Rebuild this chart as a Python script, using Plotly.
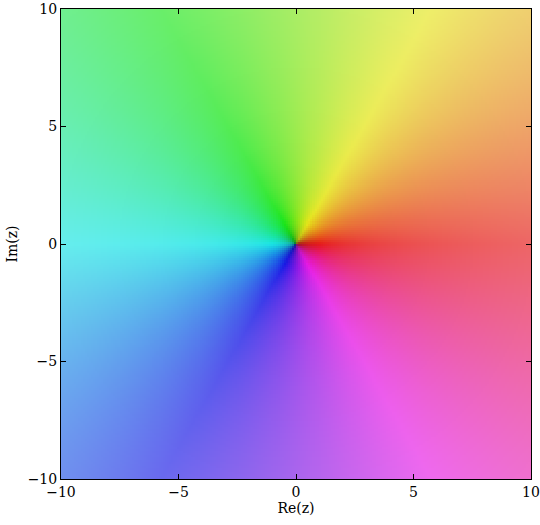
import numpy as np
import colorsys
import plotly.graph_objects as go

# Domain of the complex plane plotted (f(z) = z)
re_values = np.linspace(-10, 10, 230)
im_values = np.linspace(-10, 10, 230)
tick_values = [-10, -5, 0, 5, 10]
tick_labels = ["\u221210", "\u22125", "0", "5", "10"]

# domain colouring (mpmath cplot default colour function)
Z = re_values[None, :] + 1j * im_values[:, None]
F = Z
img = np.zeros(F.shape + (3,), dtype=np.uint8)
for i in range(F.shape[0]):
    for j in range(F.shape[1]):
        w = F[i, j]
        a = (np.angle(w) + np.pi) / (2 * np.pi)
        a = (a + 0.5) % 1.0
        b = 1.0 - 1.0 / (1.0 + abs(w) ** 0.3)
        r, g, bl = colorsys.hls_to_rgb(a, b, 0.8)
        img[i, j] = [int(r * 255), int(g * 255), int(bl * 255)]

dx = re_values[1] - re_values[0]
dy = im_values[1] - im_values[0]

fig = go.Figure(go.Image(z=img, x0=re_values[0], dx=dx, y0=im_values[0], dy=dy,
                         hoverinfo="skip"))

W, H = 540, 525
M = dict(l=61, r=9, t=9, b=46)

font = dict(family="DejaVu Serif", size=14, color="black")
axis_common = dict(
    tickvals=tick_values, ticktext=tick_labels, ticks="inside", ticklen=5,
    tickwidth=1, tickcolor="black", showticklabels=True,
    mirror="allticks", showline=True, linecolor="black",
    linewidth=1, showgrid=False, zeroline=False, tickfont=font,
    automargin=False, layer="above traces",
)
fig.update_xaxes(range=[-10, 10], title=dict(text="Re(z)", font=font, standoff=4),
                 **axis_common)
fig.update_yaxes(range=[-10, 10], autorange=False, title=dict(text="Im(z)", font=font, standoff=6),
                 **axis_common)

fig.update_layout(
    width=W, height=H,
    margin=dict(**M, autoexpand=False),
    paper_bgcolor="white", plot_bgcolor="white",
    font=font,
)
fig.write_html("out.html", config={"displayModeBar": False},
               post_script="document.body.style.margin='0';")
